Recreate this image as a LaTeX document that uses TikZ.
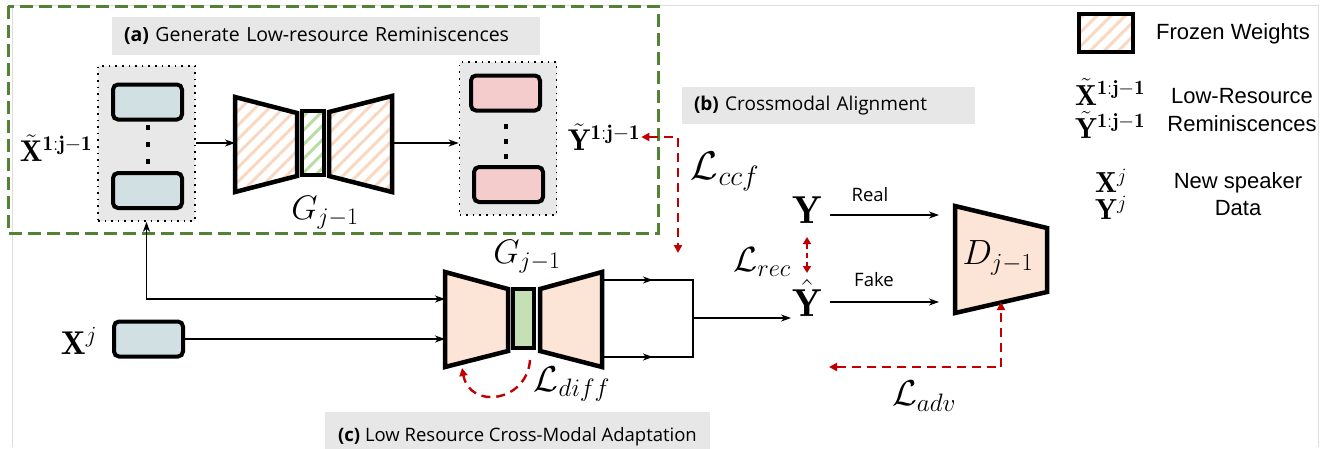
\documentclass[tikz,border=0pt]{standalone}
\usepackage{fix-cm}
\usepackage{amsmath}
\usepackage{fontspec}
\newfontfamily\osfont{Open Sans}
\newfontfamily\arfont{Liberation Sans}
\usetikzlibrary{arrows.meta,patterns.meta,calc}
\definecolor{ggreen}{HTML}{548235}
\definecolor{lred}{HTML}{C00000}
\definecolor{lblgray}{HTML}{E7E7E7}
\definecolor{contgray}{HTML}{E8E8E8}
\definecolor{bluefill}{HTML}{D0E0E3}
\definecolor{pinkfill}{HTML}{F4CCCC}
\definecolor{peach}{HTML}{FCE4D6}
\definecolor{mgreen}{HTML}{C5E0B4}
\definecolor{hatchorange}{HTML}{F9D8C2}
\definecolor{hatchgreen}{HTML}{B8DDA4}
\definecolor{framegray}{HTML}{DDDDDD}
\tikzset{
  arr/.style={line width=1.6pt, >={Stealth[length=10pt,width=7pt,inset=3pt]}, ->},
  plainline/.style={line width=1.6pt},
  redl/.style={draw=lred, line width=2.4pt, dash pattern=on 9pt off 6pt, >={Triangle[length=8pt,width=8pt]}},
  lbox/.style={fill=lblgray, inner xsep=12pt, align=left, font=\osfont\fontsize{19}{22}\selectfont},
  cont/.style={fill=contgray, draw=black, line width=1.6pt, dash pattern=on 1.6pt off 5pt},
  bluebox/.style={draw=black, fill=bluefill, line width=4pt, rounded corners=5pt, minimum width=69pt, minimum height=35pt},
  pinkbox/.style={draw=black, fill=pinkfill, line width=4pt, rounded corners=5pt, minimum width=69pt, minimum height=35pt},
  frozenhatch/.style={draw=black, line width=4.5pt, line join=miter, pattern={Lines[angle=45,distance=10pt,line width=3pt]}, pattern color=hatchorange},
  frozenmid/.style={draw=black, line width=4pt, line join=miter, pattern={Lines[angle=45,distance=10pt,line width=3pt]}, pattern color=hatchgreen},
  trainpart/.style={draw=black, fill=peach, line width=4.5pt, line join=miter},
  trainmid/.style={draw=black, fill=mgreen, line width=4pt, line join=miter},
  mathlbl/.style={inner sep=1pt},
  legtext/.style={font=\arfont\fontsize{22}{26}\selectfont, inner sep=1pt},
  smalltext/.style={font=\osfont\fontsize{18.5}{22}\selectfont, inner sep=1pt},
  dotmark/.style={fill=black, minimum width=4pt, minimum height=5pt, inner sep=0pt}
}
\begin{document}
\begin{tikzpicture}[x=1pt,y=-1pt]
\useasboundingbox (0,0) rectangle (1325,448);
% outer light frame
\draw[framegray, line width=1pt] (12,447) -- (12,5) -- (1318,5) -- (1318,447);

% ===== (a) group =====
\draw[ggreen, line width=3pt, dash pattern=on 13pt off 6pt] (8,6) rectangle (658,233);
\node[lbox, font=\osfont\fontsize{19.5}{22}\selectfont, minimum width=428pt, minimum height=38pt, text width=404pt] (la) at (326,36) {\textbf{(a)} Generate Low-resource Reminiscences};

% left container
\node[cont, minimum width=97pt, minimum height=155pt] (lc) at (146.5,143.5) {};
\node[bluebox] (lb1) at (147.5,102) {};
\node[bluebox] (lb2) at (147.5,190.5) {};
\node[dotmark] (ld1) at (147.5,127) {};
\node[dotmark] (ld2) at (147.5,144) {};
\node[dotmark] (ld3) at (147.5,161) {};
\node[mathlbl, font=\fontsize{30}{34}\selectfont] (xt) at (56,148) {$\tilde{\mathbf{X}}^{\mathbf{1:j-1}}$};

% frozen generator
\draw[frozenhatch] (235,97) -- (297,113) -- (297,176) -- (235,192) -- cycle;
\draw[frozenmid] (302,111) rectangle (324,175);
\draw[frozenhatch] (329,112) -- (392,96) -- (392,192) -- (329,176) -- cycle;
\coordinate (g1in) at (235,143);
\coordinate (g1out) at (392,143);
\node[mathlbl, font=\fontsize{34}{40}\selectfont] (g1lab) at (325,213) {$G_{j-1}$};

% right container
\node[cont, minimum width=97pt, minimum height=153pt] (rc) at (508,138.5) {};
\node[pinkbox] (rb1) at (505.5,93) {};
\node[pinkbox] (rb2) at (508.5,184.5) {};
\node[dotmark] (rd1) at (506,126) {};
\node[dotmark] (rd2) at (506,141) {};
\node[dotmark] (rd3) at (506,156) {};
\node[mathlbl, font=\fontsize{30}{34}\selectfont] (yt) at (604,137) {$\tilde{\mathbf{Y}}^{\mathbf{1:j-1}}$};

\draw[arr] (lc.east |- g1in) -- (g1in);
\draw[arr] (g1out) -- (g1out -| rc.west);

% ===== (b) =====
\node[lbox, minimum width=293pt, minimum height=37pt, text width=269pt] (lbb) at (828.5,105.5) {\textbf{(b)} Crossmodal Alignment};
\coordinate (ccfc) at (678,137);
\coordinate (ccfe) at (678,253);
\draw[redl, <->] (yt.east) -- (ccfc) -- (ccfe);
\node[mathlbl, font=\fontsize{40}{46}\selectfont] (lccf) at (725,172) {$\mathcal{L}_{ccf}$};

% ===== (c) =====
\node[fill=lblgray, inner xsep=3pt, minimum width=385pt, minimum height=50pt, font=\osfont\fontsize{18.5}{22}\selectfont] (lbc) at (517.5,437) {\textbf{(c)} Low Resource Cross-Modal Adaptation};

% trainable generator
\draw[trainpart] (445,272) -- (508,289) -- (508,351) -- (445,367) -- cycle;
\draw[trainmid] (513,289) rectangle (534,348);
\draw[trainpart] (540,289) -- (602,272) -- (602,367) -- (540,351) -- cycle;
\node[mathlbl, font=\fontsize{34}{40}\selectfont] (g2lab) at (527,257) {$G_{j-1}$};
\coordinate (g2in1) at (445,299);
\coordinate (g2in2) at (445,339);
\coordinate (o1) at (602,280);
\coordinate (o2) at (602,357);
\coordinate (j1) at (693,280);
\coordinate (j2) at (693,357);
\coordinate (jm) at (693,318);

% new speaker input
\node[mathlbl, font=\fontsize{33}{38}\selectfont] (xj) at (79,341) {$\mathbf{X}^{j}$};
\node[bluebox] (xjb) at (148.5,339) {};
\draw[arr] (xjb.east) -- (g2in2);
\draw[arr, <->] (lc.south) |- (g2in1);

% outputs
\draw[plainline] (o1) -- (j1) -- (j2) -- (o2);
\draw[arr] (o1) -- ($(o1)!0.56!(j1)$);
\draw[arr] (o2) -- ($(o2)!0.56!(j2)$);

% L_diff
\coordinate (dfs) at (530,360);
\coordinate (dfe) at (462,368);
\draw[redl, ->] (dfs) .. controls (527,402) and (470,410) .. (dfe);
\node[mathlbl, font=\fontsize{36}{42}\selectfont] (ldiff) at (572,384) {$\mathcal{L}_{diff}$};

% Y, Yhat
\node[mathlbl, font=\fontsize{39}{44}\selectfont] (ynode) at (807,210) {$\mathbf{Y}$};
\node[mathlbl, font=\fontsize{39}{44}\selectfont] (yh) at (807,298) {$\hat{\mathbf{Y}}$};
\draw[arr] (jm) -- (jm -| yh.west);
\coordinate (rec1) at (807,237);
\coordinate (rec2) at (807,273);
\draw[redl, dash pattern=on 5pt off 4pt, line width=2.2pt, >={Triangle[length=7pt,width=8pt]}, <->] (rec1) -- (rec2);
\node[mathlbl, font=\fontsize{35}{40}\selectfont] (lrec) at (762,262) {$\mathcal{L}_{rec}$};

% discriminator
\draw[trainpart] (955,206) -- (1047,228) -- (1047,292) -- (955,313) -- cycle;
\node[mathlbl, font=\fontsize{35}{40}\selectfont] (dlab) at (998,258) {$D_{j-1}$};
\coordinate (r1) at (830,215);
\coordinate (r2) at (939,215);
\coordinate (f1) at (830,302);
\coordinate (f2) at (939,302);
\draw[arr] (r1) -- (r2);
\draw[arr] (f1) -- (f2);
\node[smalltext] (real) at (870,195) {Real};
\node[smalltext] (fake) at (874,280) {Fake};
\coordinate (dbot) at (1001,302);
\coordinate (advc) at (1001,367);
\coordinate (advl) at (829,367);
\draw[redl, <->] (advl) -- (advc) -- (dbot);
\node[mathlbl, font=\fontsize{36}{42}\selectfont] (ladv) at (924,396) {$\mathcal{L}_{adv}$};

% ===== legend =====
\node[frozenhatch, minimum width=54pt, minimum height=38pt, inner sep=0pt] (fz) at (1106,33) {};
\node[legtext, anchor=west] (fzt) at (1155,34) {Frozen Weights};
\node[mathlbl, font=\fontsize{29}{33}\selectfont] (lgx) at (1110,92) {$\tilde{\mathbf{X}}^{\mathbf{1:j-1}}$};
\node[mathlbl, font=\fontsize{29}{33}\selectfont] (lgy) at (1110,125) {$\tilde{\mathbf{Y}}^{\mathbf{1:j-1}}$};
\node[legtext] (lgxt) at (1242,96) {Low-Resource};
\node[legtext] (lgyt) at (1242,124) {Reminiscences};
\node[mathlbl, font=\fontsize{29}{33}\selectfont] (lgxj) at (1111,181) {$\mathbf{X}^{j}$};
\node[mathlbl, font=\fontsize{29}{33}\selectfont] (lgyj) at (1111,208) {$\mathbf{Y}^{j}$};
\node[legtext] (lgxjt) at (1238,183) {New speaker};
\node[legtext] (lgyjt) at (1238,208) {Data};
\end{tikzpicture}
\end{document}
